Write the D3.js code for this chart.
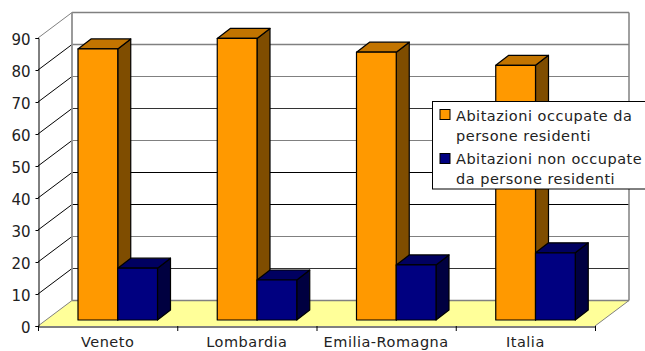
<!DOCTYPE html>
<html><head><meta charset="utf-8">
<script src="https://cdn.jsdelivr.net/npm/d3@7"></script>
<style>html,body{margin:0;padding:0;background:#fff;overflow:hidden}svg{display:block}text{font-family:"DejaVu Sans",sans-serif;fill:#222}</style>
</head><body><svg id="c" width="645" height="351"></svg>
<script>
const categories = ["Veneto","Lombardia","Emilia-Romagna","Italia"];
const occupate = [84.7,88,83.7,79.6];
const nonOccupate = [16.2,12.5,17.2,21];
const yTicks = [0,10,20,30,40,50,60,70,80,90];
const legendLabels = [["Abitazioni occupate da","persone residenti"],["Abitazioni non occupate","da persone residenti"]];
const seriesColors = [["#ff9900","#c27400","#7f4d00"],["#000080","#000060","#000040"]];

const svg = d3.select("#c");
const y = d3.scaleLinear().domain([0,90]).range([326,38]);
const x = d3.scaleBand().domain(categories).range([38,595]);
const sub = d3.scaleBand().domain([0,1]).range([40,119.5]);
const dx = 34, dy = -25.5, bdx = 13, bdy = -10, baseDy = -6;

const line=(a,b,c,d,col,w=1)=>svg.append("line").attr("x1",a).attr("y1",b).attr("x2",c).attr("y2",d).attr("stroke",col).attr("stroke-width",w);
const poly=(pts,fill,stroke="#000",w=1.2)=>svg.append("polygon").attr("points",pts.map(p=>p.join(",")).join(" ")).attr("fill",fill).attr("stroke",stroke).attr("stroke-width",w).attr("stroke-linejoin","round");
const gridColor=t=>[0,20,50,70,80,90].includes(t)?"#808080":[10,60].includes(t)?"#333":"#000";

poly([[38,y(0)],[595,y(0)],[595+dx,y(0)+dy],[38+dx,y(0)+dy]],"#ffff99","none",0);
yTicks.forEach(t=>{
  line(38+dx,y(t)+dy,595+dx,y(t)+dy,gridColor(t),t===80||t===0?1.6:t===90?1.3:1);
  line(38,y(t),38+dx,y(t)+dy,t===90||t===0?"#808080":"#000");
});
line(38+dx,y(90)+dy,38+dx,y(0)+dy,"#909090",1.8);
line(595+dx,y(90)+dy,595+dx,y(0)+dy,"#808080",1.5);
line(595,y(0),595+dx,y(0)+dy,"#808080");

[occupate,nonOccupate].forEach((vals,i)=>{
  const [front,top,side]=seriesColors[i];
  categories.forEach((c,j)=>{
    const x0=x(c)+sub(i), x1=x0+sub.bandwidth(), yT=y(vals[j])+baseDy, yB=y(0)+baseDy;
    poly([[x1,yT],[x1+bdx,yT+bdy],[x1+bdx,yB+bdy],[x1,yB]],side);
    poly([[x0,yT],[x0+bdx,yT+bdy],[x1+bdx,yT+bdy],[x1,yT]],top);
    poly([[x0,yT],[x1,yT],[x1,yB],[x0,yB]],front);
  });
});

const gy=svg.append("g").attr("transform","translate(38.5,0)").call(d3.axisLeft(y).tickValues(yTicks).tickSize(3).tickPadding(5));
const gx=svg.append("g").attr("transform","translate(0,326.5)").call(d3.axisBottom(x).tickSize(0).tickPadding(0));
gy.selectAll("path,line").attr("stroke","#000");
gy.selectAll("text").attr("font-size",15).attr("font-family",'"DejaVu Sans"').attr("dy","0.42em");
gx.select("path").attr("stroke","#000");
gx.selectAll("text").attr("font-size",14.5).attr("font-family",'"DejaVu Sans"').attr("letter-spacing",0.5).attr("dy",0).attr("y",20.5);
x.domain().concat(["end"]).forEach(c=>{const xp=c==="end"?595:x(c);line(xp+.5,326,xp+.5,331,"#000");});

svg.append("rect").attr("x",432.5).attr("y",101.5).attr("width",230).attr("height",87.5).attr("fill","#fff").attr("stroke","#000");
legendLabels.forEach((ls,i)=>{
  const top=109.5+i*44;
  svg.append("rect").attr("x",440).attr("y",top).attr("width",10).attr("height",10).attr("fill",seriesColors[i][0]).attr("stroke","#000");
  ls.forEach((l,k)=>svg.append("text").attr("x",456).attr("y",121+i*43+k*20).attr("font-size",14.5).attr("letter-spacing",0.5).text(l));
});
</script></body></html>
